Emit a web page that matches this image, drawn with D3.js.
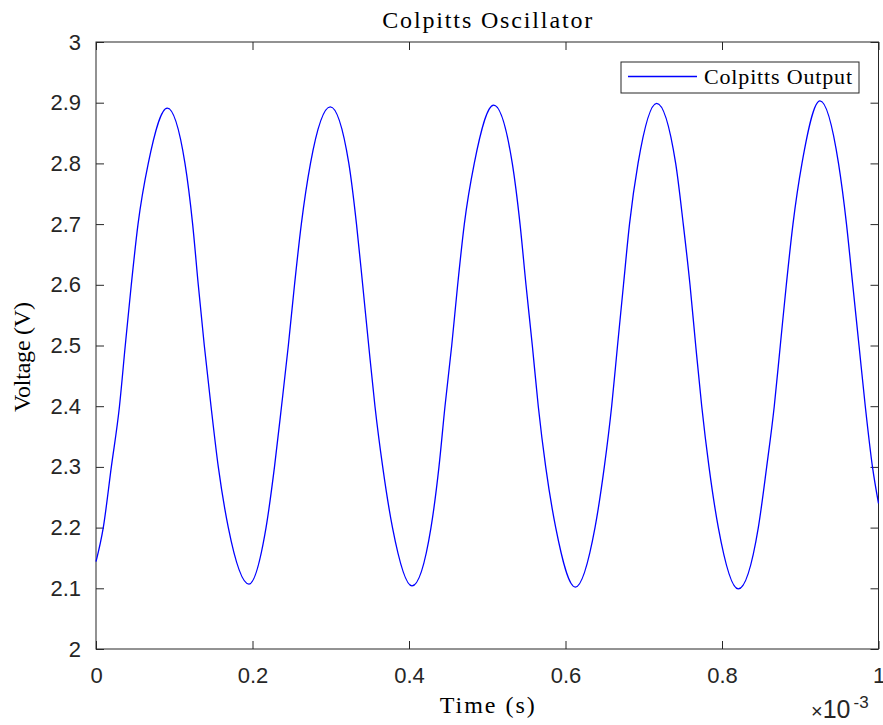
<html>
<head>
  <script src="https://d3js.org/d3.v7.min.js"></script>
  <style>
    body { margin: 0; background: white; }
    .tick text { font-family: "Liberation Sans", Arial, sans-serif; fill: #262626; }
  </style>
</head>
<body>
<svg id="chart" width="883" height="725"></svg>
<script>
// time in units of 1e-3 s
const timeMs = [
  0.0000, 0.0093, 0.0196, 0.0300, 0.0374, 0.0451, 0.0537, 0.0668, 0.0911,
  0.1137, 0.1235, 0.1307, 0.1384, 0.1470, 0.1563, 0.1691, 0.1955,
  0.2173, 0.2281, 0.2371, 0.2458, 0.2537, 0.2624, 0.2741, 0.2994,
  0.3231, 0.3329, 0.3408, 0.3485, 0.3565, 0.3664, 0.3789, 0.4038,
  0.4281, 0.4383, 0.4460, 0.4546, 0.4622, 0.4707, 0.4834, 0.5082,
  0.5320, 0.5419, 0.5495, 0.5576, 0.5652, 0.5747, 0.5875, 0.6125,
  0.6377, 0.6496, 0.6590, 0.6665, 0.6741, 0.6818, 0.6927, 0.7165,
  0.7408, 0.7505, 0.7591, 0.7664, 0.7741, 0.7834, 0.7953, 0.8208,
  0.8464, 0.8571, 0.8668, 0.8745, 0.8822, 0.8907, 0.9022, 0.9252,
  0.9489, 0.9591, 0.9671, 0.9751, 0.9831, 0.9923, 1.0000
];
const voltage = [
  2.144, 2.2, 2.3, 2.4, 2.5, 2.6, 2.7, 2.8, 2.891,
  2.8, 2.7, 2.6, 2.5, 2.4, 2.3, 2.2, 2.107,
  2.2, 2.3, 2.4, 2.5, 2.6, 2.7, 2.8, 2.893,
  2.8, 2.7, 2.6, 2.5, 2.4, 2.3, 2.2, 2.104,
  2.2, 2.3, 2.4, 2.5, 2.6, 2.7, 2.8, 2.896,
  2.8, 2.7, 2.6, 2.5, 2.4, 2.3, 2.2, 2.102,
  2.2, 2.3, 2.4, 2.5, 2.6, 2.7, 2.8, 2.899,
  2.8, 2.7, 2.6, 2.5, 2.4, 2.3, 2.2, 2.099,
  2.2, 2.3, 2.4, 2.5, 2.6, 2.7, 2.8, 2.903,
  2.8, 2.7, 2.6, 2.5, 2.4, 2.3, 2.24
];
const xTicks = [0, 0.2, 0.4, 0.6, 0.8, 1];
const xTickLabels = ["0", "0.2", "0.4", "0.6", "0.8", "1"];
const yTicks = [2, 2.1, 2.2, 2.3, 2.4, 2.5, 2.6, 2.7, 2.8, 2.9, 3];
const yTickLabels = ["2", "2.1", "2.2", "2.3", "2.4", "2.5", "2.6", "2.7", "2.8", "2.9", "3"];
const seriesName = "Colpitts Output";

let svg = d3.select("svg#chart");
const plotLeft = 96, plotRight = 878.5, plotTop = 42, plotBottom = 649;
const axisColor = "#262626";
const serif = "'Liberation Serif', 'Times New Roman', serif";

let xscale = d3.scaleLinear().domain([0, 1]).range([plotLeft, plotRight]);
let yscale = d3.scaleLinear().domain([2, 3]).range([plotBottom, plotTop]);

// axes with inward ticks
let gx = svg.append("g").attr("transform", `translate(0,${plotBottom})`)
  .call(d3.axisBottom(xscale).tickValues(xTicks)
    .tickFormat((d, i) => xTickLabels[i]).tickSizeInner(-8).tickSizeOuter(0).tickPadding(18));
let gy = svg.append("g").attr("transform", `translate(${plotLeft},0)`)
  .call(d3.axisLeft(yscale).tickValues(yTicks)
    .tickFormat((d, i) => yTickLabels[i]).tickSizeInner(-8).tickSizeOuter(0).tickPadding(15));
let gt = svg.append("g").attr("transform", `translate(0,${plotTop})`)
  .call(d3.axisTop(xscale).tickValues(xTicks).tickFormat("").tickSizeInner(-8).tickSizeOuter(0));
let gr = svg.append("g").attr("transform", `translate(${plotRight},0)`)
  .call(d3.axisRight(yscale).tickValues(yTicks).tickFormat("").tickSizeInner(-8).tickSizeOuter(0));

[gx, gy, gt, gr].forEach(g => {
  g.select(".domain").remove();
  g.selectAll(".tick line").attr("stroke", axisColor).attr("stroke-width", 1);
  g.selectAll(".tick text").style("font-size", "22px").style("fill", axisColor);
});

svg.append("rect")
  .attr("x", plotLeft).attr("y", plotTop)
  .attr("width", plotRight - plotLeft).attr("height", plotBottom - plotTop)
  .attr("fill", "none").attr("stroke", axisColor).attr("stroke-width", 1);

// the signal
const points = timeMs.map((t, i) => [t, voltage[i]]);
let line = d3.line()
  .x(d => xscale(d[0]))
  .y(d => yscale(d[1]))
  .curve(d3.curveMonotoneX);

svg.append("path")
  .datum(points)
  .attr("d", line)
  .attr("fill", "none")
  .attr("stroke", "#0000ff")
  .attr("stroke-width", 1.3);

// exponent label
let expo = svg.append("text")
  .attr("x", 811).attr("y", 718)
  .style("font-family", "'Liberation Sans', Arial, sans-serif")
  .style("fill", axisColor);
expo.append("tspan").style("font-size", "20px").text("\u00d7");
expo.append("tspan").style("font-size", "25px").text("10");
expo.append("tspan").attr("dy", -10).attr("dx", 3).style("font-size", "17px").text("-3");

// title and labels
svg.append("text")
  .attr("x", (plotLeft + plotRight) / 2).attr("y", 28)
  .attr("text-anchor", "middle")
  .attr("textLength", 210)
  .style("font-family", serif).style("font-size", "24px").style("fill", "black")
  .text("Colpitts Oscillator");

svg.append("text")
  .attr("x", (plotLeft + plotRight) / 2).attr("y", 713)
  .attr("text-anchor", "middle")
  .attr("textLength", 95)
  .style("font-family", serif).style("font-size", "24px").style("fill", "black")
  .text("Time (s)");

svg.append("text")
  .attr("transform", `translate(30,${357}) rotate(-90)`)
  .attr("text-anchor", "middle")
  .attr("textLength", 110)
  .style("font-family", serif).style("font-size", "24px").style("fill", "black")
  .text("Voltage (V)");

// legend
let legend = svg.append("g");
legend.append("rect")
  .attr("x", 621).attr("y", 62).attr("width", 238).attr("height", 31)
  .attr("fill", "white").attr("stroke", axisColor).attr("stroke-width", 1);
legend.append("line")
  .attr("x1", 628).attr("x2", 697).attr("y1", 76.5).attr("y2", 76.5)
  .attr("stroke", "#0000ff").attr("stroke-width", 1.3);
legend.append("text")
  .attr("x", 704).attr("y", 83.5)
  .attr("textLength", 148)
  .style("font-family", serif).style("font-size", "22px").style("fill", "black")
  .text(seriesName);
</script>
</body>
</html>
